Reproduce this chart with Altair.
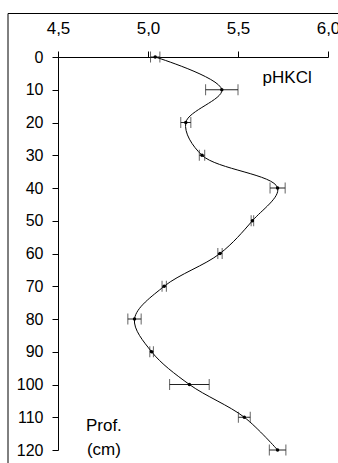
import altair as alt
import pandas as pd

# Soil pH (KCl) profile: mean value and spread at each sampling depth
depth_cm = [0, 10, 20, 30, 40, 50, 60, 70, 80, 90, 100, 110, 120]
ph_kcl = [5.04, 5.41, 5.21, 5.30, 5.72, 5.58, 5.40, 5.09, 4.925, 5.02, 5.23, 5.535, 5.72]
ph_err = [0.026, 0.09, 0.028, 0.015, 0.042, 0.007, 0.012, 0.012, 0.037, 0.01, 0.11, 0.033, 0.046]

x_ticks = [4.5, 5.0, 5.5, 6.0]
y_ticks = list(range(0, 121, 10))

df = pd.DataFrame({"depth": depth_cm, "ph": ph_kcl, "err": ph_err})
df["lo"] = df["ph"] - df["err"]
df["hi"] = df["ph"] + df["err"]

FONT = "Liberation Sans"
W, H = 270, 393

x_scale = alt.Scale(domain=[4.5, 6.0], nice=False, zero=False)
y_scale = alt.Scale(domain=[0, 120], reverse=True, nice=False)

x_axis = alt.Axis(
    orient="top", values=x_ticks, title="", grid=False,
    labelExpr="replace(format(datum.value, '.1f'), '.', ',')",
    tickSize=6, labelPadding=14, labelFont=FONT, labelFontSize=17,
    labelFontWeight="normal", labelColor="black", domainColor="black",
    tickColor="black", labelFlush=False, labelOverlap=False,
)
y_axis = alt.Axis(
    values=y_ticks, title="", grid=False, tickSize=6, labelPadding=9,
    labelFont=FONT, labelFontSize=16, labelFontWeight="normal",
    labelColor="black", domainColor="black", tickColor="black",
    labelOverlap=False,
)


def xq(field):
    return alt.X(f"{field}:Q", scale=x_scale, axis=x_axis)


def yq(field="depth"):
    return alt.Y(f"{field}:Q", scale=y_scale, axis=y_axis)


base = alt.Chart(df)

curve = base.mark_line(
    interpolate="catmull-rom", color="black", strokeWidth=1
).encode(x=xq("ph"), y=yq(), order="depth:Q")

bars = base.mark_rule(color="#222", strokeWidth=1).encode(
    x=xq("lo"), x2="hi:Q", y=yq()
)
cap_lo = base.mark_tick(orient="vertical", size=11, thickness=1, color="#222").encode(
    x=xq("lo"), y=yq()
)
cap_hi = base.mark_tick(orient="vertical", size=11, thickness=1, color="#222").encode(
    x=xq("hi"), y=yq()
)
dots = base.mark_circle(size=12, color="black", opacity=1).encode(
    x=xq("ph"), y=yq()
)

labels = pd.DataFrame({
    "ph": [5.773, 4.755, 4.755],
    "depth": [6.3, 112.6, 120.0],
    "text": ["pHKCl", "Prof.", "(cm)"],
})
notes = alt.Chart(labels).mark_text(
    font=FONT, fontSize=17, color="black", align="center", baseline="middle"
).encode(x=xq("ph"), y=yq(), text="text:N")

# outer frame (left and top edges)
one = alt.Data(values=[{"k": 1}])
frame_top = alt.Chart(one).mark_rule(color="black", strokeWidth=1).encode(
    x=alt.value(-50), x2=alt.value(400), y=alt.value(-43.5)
)
frame_left = alt.Chart(one).mark_rule(color="black", strokeWidth=1).encode(
    x=alt.value(-50), y=alt.value(-43.5), y2=alt.value(500)
)

chart = alt.layer(
    curve, bars, cap_lo, cap_hi, dots, notes, frame_top, frame_left
).properties(
    width=W, height=H,
    autosize=alt.AutoSizeParams(type="none"),
    padding={"left": 58, "top": 57, "right": 10, "bottom": 13},
    background="white",
).configure_view(stroke=None)

chart.save("out.html", embed_options={"renderer": "svg", "actions": False})
